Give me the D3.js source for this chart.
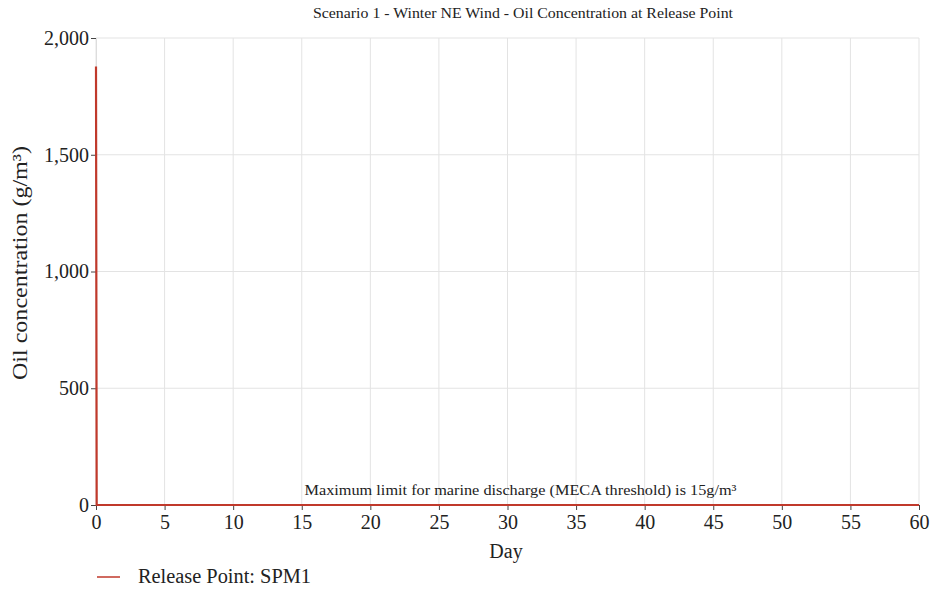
<!DOCTYPE html>
<html>
<head>
<meta charset="utf-8">
<title>Oil Concentration at Release Point</title>
<script src="https://d3js.org/d3.v7.min.js"></script>
<style>
  body { margin: 0; background: #fff; }
  svg text { font-family: "Liberation Serif", "DejaVu Serif", serif; fill: #222; }
</style>
</head>
<body>
<script type="text/javascript">
	var screenWidth  = 933;
	var screenHeight = 590;
	var margin = {top: 38, right: 14, bottom: 85, left: 96};

	// series: day vs oil concentration (g/m3)
	var days   = [0, 0.05, 1, 5, 10, 20, 30, 40, 50, 60];
	var conc   = [1878, 0, 0, 0, 0, 0, 0, 0, 0, 0];
	var xTicks = [0, 5, 10, 15, 20, 25, 30, 35, 40, 45, 50, 55, 60];
	var yTicks = [0, 500, 1000, 1500, 2000];
	var seriesName = "Release Point: SPM1";
	var lineColour = "#c0392b";

	var w = screenWidth - margin.left - margin.right;
	var h = screenHeight - margin.top - margin.bottom;

	var xScale = d3.scaleLinear().domain([0, 60]).range([0, w]);
	var yScale = d3.scaleLinear().domain([0, 2000]).range([h, 0]);

	var svg = d3.select("body").append("svg")
		.attr("width", screenWidth)
		.attr("height", screenHeight)
		.style("font-family", "'Liberation Serif', serif");

	svg.append("text")
		.attr("x", 523).attr("y", 18)
		.attr("text-anchor", "middle")
		.attr("textLength", 420).attr("lengthAdjust", "spacingAndGlyphs")
		.style("font-size", "14px")
		.text("Scenario 1 - Winter NE Wind - Oil Concentration at Release Point");

	var g = svg.append("g").attr("transform", "translate(" + margin.left + "," + margin.top + ")");

	// grid
	g.selectAll("line.vgrid").data(xTicks).enter().append("line")
		.attr("class", "vgrid")
		.attr("x1", d => xScale(d)).attr("x2", d => xScale(d))
		.attr("y1", 0).attr("y2", h)
		.attr("stroke", "#e3e3e3");
	g.selectAll("line.hgrid").data(yTicks).enter().append("line")
		.attr("class", "hgrid")
		.attr("x1", 0).attr("x2", w)
		.attr("y1", d => yScale(d)).attr("y2", d => yScale(d))
		.attr("stroke", "#e3e3e3");

	// axes
	var xAxis = g.append("g").attr("transform", "translate(0," + h + ")")
		.call(d3.axisBottom(xScale).tickValues(xTicks).tickSize(5).tickPadding(5).tickFormat(d3.format("d")));
	var yAxis = g.append("g")
		.call(d3.axisLeft(yScale).tickValues(yTicks).tickSize(5).tickPadding(2).tickFormat(d3.format(",")));

	[xAxis, yAxis].forEach(function(a) {
		a.attr("font-family", null);
		a.select(".domain").attr("stroke", "#ddd");
		a.selectAll(".tick line").attr("stroke", "#444");
		a.selectAll(".tick text").style("font-size", "20px").attr("fill", "#222");
	});

	// annotation
	g.append("text")
		.attr("x", xScale(30) + 13).attr("y", yScale(0) - 10)
		.attr("text-anchor", "middle")
		.attr("textLength", 432).attr("lengthAdjust", "spacingAndGlyphs")
		.style("font-size", "15px")
		.text("Maximum limit for marine discharge (MECA threshold) is 15g/m\u00b3");

	// line
	var line = d3.line().x((d, i) => xScale(days[i])).y(d => yScale(d));
	g.append("path")
		.datum(conc)
		.attr("d", line)
		.attr("fill", "none")
		.attr("stroke", lineColour)
		.attr("stroke-width", 2.2);

	// axis labels
	svg.append("text")
		.attr("x", 506).attr("y", 558)
		.attr("text-anchor", "middle")
		.style("font-size", "20px")
		.text("Day");

	svg.append("text")
		.attr("transform", "translate(27,263) rotate(-90)")
		.attr("text-anchor", "middle")
		.attr("textLength", 234).attr("lengthAdjust", "spacingAndGlyphs")
		.style("font-size", "21px")
		.text("Oil concentration (g/m\u00b3)");

	// legend
	svg.append("line")
		.attr("x1", 97).attr("x2", 120).attr("y1", 577).attr("y2", 577)
		.attr("stroke", lineColour).attr("stroke-width", 1.5);
	svg.append("text")
		.attr("x", 138).attr("y", 583)
		.attr("textLength", 173).attr("lengthAdjust", "spacingAndGlyphs")
		.style("font-size", "20px")
		.text(seriesName);
</script>
</body>
</html>
